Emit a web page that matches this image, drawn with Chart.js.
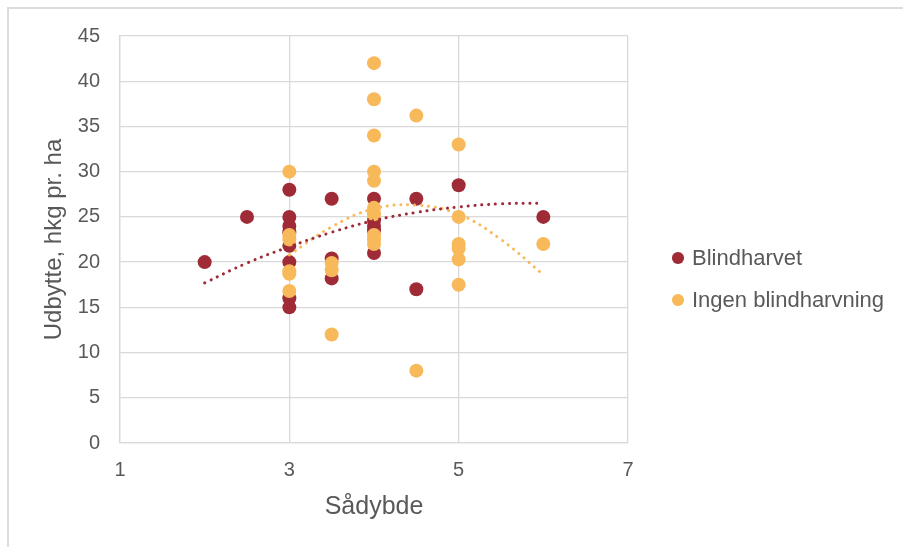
<!DOCTYPE html>
<html>
<head>
<meta charset="utf-8">
<script src="https://cdn.jsdelivr.net/npm/chart.js@4.4.1/dist/chart.umd.min.js"></script>
<style>
  html, body { margin: 0; padding: 0; background: #fff; }
  #ramme { position: absolute; left: 7px; top: 7px; width: 896px; height: 540px;
           border-top: 2px solid #dcdcdc; border-left: 2px solid #dcdcdc; }
  #grafik { position: absolute; left: 0; top: 0; }
  .forklaring { position: absolute; left: 672px; height: 30px; display: flex; align-items: center;
                font-family: 'Liberation Sans', Arial, sans-serif; font-size: 22px; color: #595959;
                white-space: nowrap; }
  .prik { width: 11.5px; height: 11.5px; border-radius: 50%; margin-right: 8.5px; }
</style>
</head>
<body>
<div id="ramme"></div>
<canvas id="grafik" width="903" height="547"></canvas>
<div id="legende"></div>
<script>
// Blindharvet
const blindX = [2, 2.5, 3, 3, 3, 3, 3, 3, 3, 3, 3.5, 3.5, 3.5, 4, 4, 4, 4, 4, 4.5, 4.5, 5, 6];
const blindY = [20, 25, 28, 25, 24, 23.3, 21.8, 20, 16, 15, 27, 20.4, 18.2, 27, 24.6, 24, 23.5, 21, 27, 17, 28.5, 25];

// Ingen blindharvning
const ingenX = [3, 3, 3, 3, 3, 3, 3.5, 3.5, 3.5, 4, 4, 4, 4, 4, 4, 4, 4, 4, 4, 4.5, 4.5, 5, 5, 5, 5, 5, 5, 6];
const ingenY = [30, 23, 22.5, 19, 18.7, 16.8, 19.9, 19.1, 12, 42, 38, 34, 30, 29, 26, 25.3, 23, 22.5, 22, 36.2, 8, 33, 25, 22, 21.5, 20.3, 17.5, 22];

// tendenslinjer
const trendBlindX = [2, 2.5, 3, 3.5, 4, 4.5, 5, 5.5, 6];
const trendBlindY = [17.7, 19.9, 21.7, 23.3, 24.6, 25.5, 26.1, 26.45, 26.5];
const trendIngenX = [3, 3.5, 4, 4.5, 5, 5.5, 6];
const trendIngenY = [20.8, 23.9, 25.9, 26.3, 25.3, 22.5, 18.6];

const xTicks = [1, 3, 5, 7];

const rod = '#9F2B37';
const gul = '#F8B95A';
const tekst = '#595959';
const gitter = '#d9d9d9';

const punkter = (xs, ys) => xs.map((x, i) => ({ x: x, y: ys[i] }));

const ctx = document.getElementById('grafik').getContext('2d');
const chart = new Chart(ctx, {
    type: 'scatter',
    data: {
        datasets: [
            { label: 'Blindharvet', data: punkter(blindX, blindY), backgroundColor: rod, borderWidth: 0,
              pointRadius: 7, pointHoverRadius: 7, order: 2 },
            { label: 'Ingen blindharvning', data: punkter(ingenX, ingenY), backgroundColor: gul, borderWidth: 0,
              pointRadius: 7, pointHoverRadius: 7, order: 1 },
            { label: 'trend1', data: punkter(trendBlindX, trendBlindY), showLine: true, borderColor: rod,
              borderWidth: 3, borderDash: [0.1, 6.8], borderCapStyle: 'round', tension: 0.4,
              pointRadius: 0, fill: false, order: 0 },
            { label: 'trend2', data: punkter(trendIngenX, trendIngenY), showLine: true, borderColor: gul,
              borderWidth: 3, borderDash: [0.1, 6.8], borderCapStyle: 'round', tension: 0.4,
              pointRadius: 0, fill: false, order: 0 }
        ]
    },
    options: {
        responsive: false,
        animation: false,
        layout: { padding: { left: 40, right: 275, top: 36, bottom: 10 } },
        plugins: {
            tooltip: { enabled: false },
            legend: { display: false }
        },
        scales: {
            x: {
                min: 1, max: 7,
                afterBuildTicks: (s) => { s.ticks = xTicks.map(v => ({ value: v })); },
                afterFit: (s) => { s.height = 94; },
                grid: { color: gitter, lineWidth: 1.3, drawTicks: false },
                border: { color: gitter, width: 1.3 },
                ticks: { color: tekst, padding: 15, font: { family: 'Liberation Sans', size: 20 } },
                title: { display: true, text: 'Sådybde', color: tekst, padding: { top: 0, bottom: 14.6 },
                         font: { family: 'Liberation Sans', size: 25 } }
            },
            y: {
                min: 0, max: 45,
                afterFit: (s) => { s.width = 80; },
                grid: { color: gitter, lineWidth: 1.3, drawTicks: false },
                border: { color: gitter, width: 1.3 },
                ticks: { stepSize: 5, color: tekst, padding: 20, font: { family: 'Liberation Sans', size: 20 } },
                title: { display: true, text: 'Udbytte, hkg pr. ha', color: tekst, padding: { top: 0, bottom: 0 },
                         font: { family: 'Liberation Sans', size: 24 } }
            }
        }
    }
});

// forklaring ved siden af plottet
const legende = document.getElementById('legende');
const midterY = [258, 300];
chart.data.datasets.slice(0, 2).forEach((ds, i) => {
    const rk = document.createElement('div');
    rk.className = 'forklaring';
    rk.style.top = (midterY[i] - 15) + 'px';
    const prik = document.createElement('span');
    prik.className = 'prik';
    prik.style.background = ds.backgroundColor;
    rk.appendChild(prik);
    rk.appendChild(document.createTextNode(ds.label));
    legende.appendChild(rk);
});
</script>
</body>
</html>
